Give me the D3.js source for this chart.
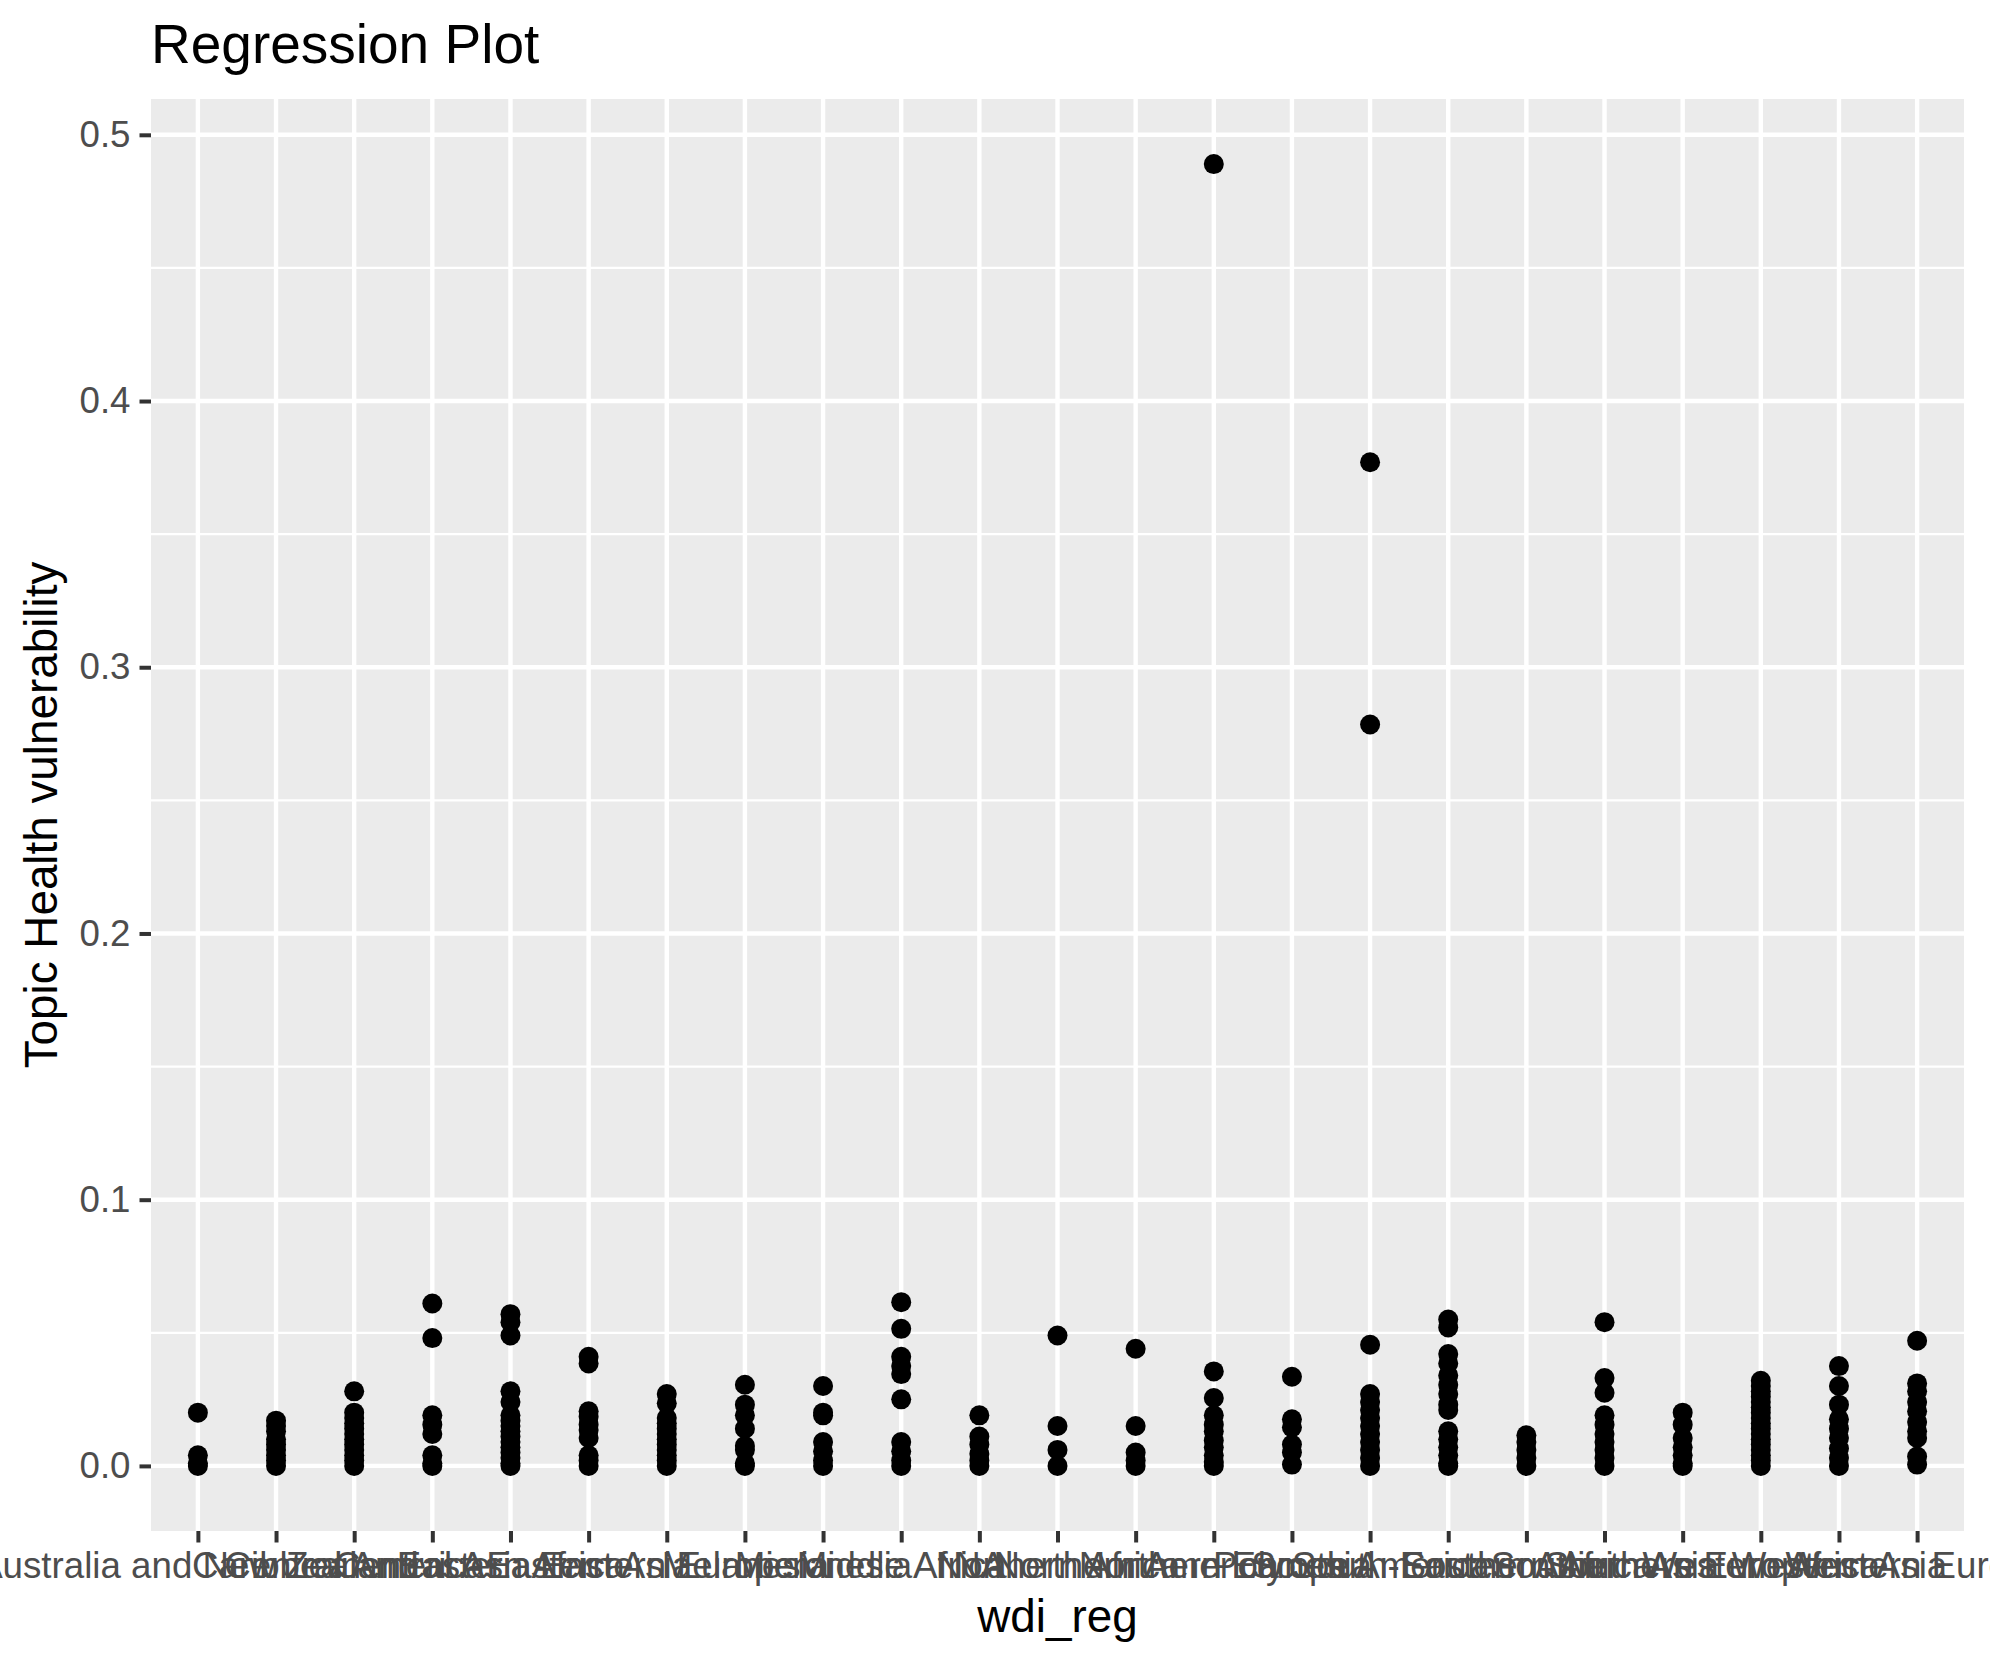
<!DOCTYPE html>
<html>
<head>
<meta charset="utf-8">
<script src="https://cdnjs.cloudflare.com/ajax/libs/d3/7.8.5/d3.min.js"></script>
<style>
  html, body { margin: 0; padding: 0; background: #ffffff; }
  svg { display: block; }
  text { font-family: "Liberation Sans", Arial, Helvetica, sans-serif; }
</style>
</head>
<body>
<svg id="chart" width="1990" height="1665"></svg>
<script>
// ---------------- data ----------------
const chartTitle = "Regression Plot";
const xTitle = "wdi_reg";
const yTitle = "Topic Health vulnerability";

const categories = [
  "Australia and New Zealand", "Caribbean", "Central America", "Central Asia",
  "Eastern Africa", "Eastern Asia", "Eastern Europe", "Melanesia", "Micronesia",
  "Middle Africa", "NA", "Northern Africa", "Northern America", "Northern Europe",
  "Polynesia", "South America", "South-Eastern Asia", "Southern Africa",
  "Southern Asia", "Southern Europe", "Western Africa", "Western Asia", "Western Europe"
];

// one list of observed values per category (same order as categories)
const regionValues = [
  [0.020, 0.004, 0.001, 0.0],
  [0.017, 0.015, 0.013, 0.010, 0.008, 0.006, 0.004, 0.002, 0.0],
  [0.028, 0.020, 0.018, 0.016, 0.014, 0.012, 0.010, 0.008, 0.006, 0.004, 0.002, 0.0],
  [0.061, 0.048, 0.019, 0.0155, 0.012, 0.004, 0.001, 0.0],
  [0.057, 0.054, 0.049, 0.028, 0.024, 0.019, 0.017, 0.015, 0.013, 0.011, 0.009, 0.007, 0.005, 0.003, 0.001, 0.0],
  [0.041, 0.0385, 0.0205, 0.0185, 0.0155, 0.0135, 0.0105, 0.004, 0.002, 0.0],
  [0.027, 0.0235, 0.018, 0.016, 0.014, 0.012, 0.010, 0.008, 0.006, 0.004, 0.002, 0.0],
  [0.0305, 0.023, 0.019, 0.014, 0.0075, 0.006, 0.001, 0.0],
  [0.030, 0.020, 0.019, 0.009, 0.0055, 0.002, 0.0],
  [0.0615, 0.0515, 0.041, 0.0375, 0.0345, 0.025, 0.009, 0.0055, 0.002, 0.0],
  [0.019, 0.011, 0.008, 0.0045, 0.002, 0.0],
  [0.049, 0.015, 0.006, 0.0],
  [0.044, 0.015, 0.005, 0.002, 0.0],
  [0.489, 0.0355, 0.0255, 0.019, 0.0155, 0.013, 0.0095, 0.007, 0.004, 0.0015, 0.0],
  [0.0335, 0.0175, 0.0145, 0.008, 0.005, 0.0005],
  [0.377, 0.2785, 0.0455, 0.027, 0.024, 0.021, 0.018, 0.015, 0.012, 0.009, 0.006, 0.003, 0.0],
  [0.055, 0.052, 0.042, 0.0385, 0.034, 0.0305, 0.027, 0.023, 0.021, 0.013, 0.010, 0.007, 0.004, 0.001, 0.0],
  [0.0115, 0.009, 0.006, 0.003, 0.0],
  [0.054, 0.033, 0.0275, 0.019, 0.0155, 0.012, 0.009, 0.006, 0.003, 0.0],
  [0.020, 0.0155, 0.0105, 0.007, 0.004, 0.001, 0.0],
  [0.032, 0.030, 0.028, 0.026, 0.024, 0.022, 0.020, 0.018, 0.016, 0.014, 0.012, 0.010, 0.008, 0.006, 0.004, 0.002, 0.0],
  [0.0375, 0.030, 0.023, 0.0175, 0.014, 0.0105, 0.0065, 0.003, 0.0],
  [0.047, 0.031, 0.028, 0.024, 0.0205, 0.0165, 0.013, 0.0105, 0.0035, 0.0005]
];

const yTickValues = [0, 0.1, 0.2, 0.3, 0.4, 0.5];
const yTickLabels = ["0.0", "0.1", "0.2", "0.3", "0.4", "0.5"];
const yMinorValues = [0.05, 0.15, 0.25, 0.35, 0.45];

// ---------------- layout ----------------
const W = 1990, H = 1665;
const panel = { left: 151, right: 1964, top: 99, bottom: 1531 };

const svg = d3.select("#chart");

// flatten
const points = [];
categories.forEach((c, i) => regionValues[i].forEach(v => points.push({ cat: c, value: v })));

// scales (ggplot-style expansion)
const ext = d3.extent(points, d => d.value);
const span = ext[1] - ext[0];
const y = d3.scaleLinear()
  .domain([ext[0] - 0.05 * span, ext[1] + 0.05 * span])
  .range([panel.bottom, panel.top]);

const n = categories.length;
const unit = (panel.right - panel.left) / (n - 1 + 1.2);
const x = d3.scalePoint()
  .domain(categories)
  .range([panel.left + 0.6 * unit, panel.right - 0.6 * unit]);

// panel background
svg.append("rect")
  .attr("x", panel.left).attr("y", panel.top)
  .attr("width", panel.right - panel.left).attr("height", panel.bottom - panel.top)
  .attr("fill", "#EBEBEB");

// grid
const grid = svg.append("g");
grid.selectAll("line.minor").data(yMinorValues).join("line")
  .attr("class", "minor")
  .attr("x1", panel.left).attr("x2", panel.right)
  .attr("y1", d => y(d)).attr("y2", d => y(d))
  .attr("stroke", "#ffffff").attr("stroke-width", 2.2);
grid.selectAll("line.majy").data(yTickValues).join("line")
  .attr("class", "majy")
  .attr("x1", panel.left).attr("x2", panel.right)
  .attr("y1", d => y(d)).attr("y2", d => y(d))
  .attr("stroke", "#ffffff").attr("stroke-width", 4.4);
grid.selectAll("line.majx").data(categories).join("line")
  .attr("class", "majx")
  .attr("y1", panel.top).attr("y2", panel.bottom)
  .attr("x1", d => x(d)).attr("x2", d => x(d))
  .attr("stroke", "#ffffff").attr("stroke-width", 4.4);

// points
svg.append("g").selectAll("circle").data(points).join("circle")
  .attr("cx", d => x(d.cat))
  .attr("cy", d => y(d.value))
  .attr("r", 10)
  .attr("fill", "#000000");

// axes
const yAxis = d3.axisLeft(y)
  .tickValues(yTickValues)
  .tickFormat((d, i) => yTickLabels[i])
  .tickSize(11.5)
  .tickPadding(9);
const gy = svg.append("g").attr("transform", `translate(${panel.left},0)`).call(yAxis);
gy.select(".domain").remove();
gy.selectAll(".tick line").attr("stroke", "#333333").attr("stroke-width", 4);
gy.selectAll(".tick text")
  .attr("fill", "#4D4D4D")
  .style("font-size", "36.7px")
  .style("font-family", '"Liberation Sans", Arial, Helvetica, sans-serif');

const xAxis = d3.axisBottom(x).tickSize(11.5).tickPadding(9);
const gx = svg.append("g").attr("transform", `translate(0,${panel.bottom})`).call(xAxis);
gx.select(".domain").remove();
gx.selectAll(".tick line").attr("stroke", "#333333").attr("stroke-width", 4);
gx.selectAll(".tick text")
  .attr("fill", "#4D4D4D")
  .style("font-size", "36.7px")
  .style("font-family", '"Liberation Sans", Arial, Helvetica, sans-serif');

// titles
svg.append("text")
  .attr("x", panel.left).attr("y", 63)
  .attr("fill", "#000000")
  .style("font-size", "55px")
  .text(chartTitle);

svg.append("text")
  .attr("x", (panel.left + panel.right) / 2).attr("y", 1632)
  .attr("text-anchor", "middle")
  .attr("fill", "#000000")
  .style("font-size", "45.8px")
  .text(xTitle);

svg.append("text")
  .attr("transform", `translate(57,${(panel.top + panel.bottom) / 2}) rotate(-90)`)
  .attr("text-anchor", "middle")
  .attr("fill", "#000000")
  .style("font-size", "45.8px")
  .text(yTitle);
</script>
</body>
</html>
